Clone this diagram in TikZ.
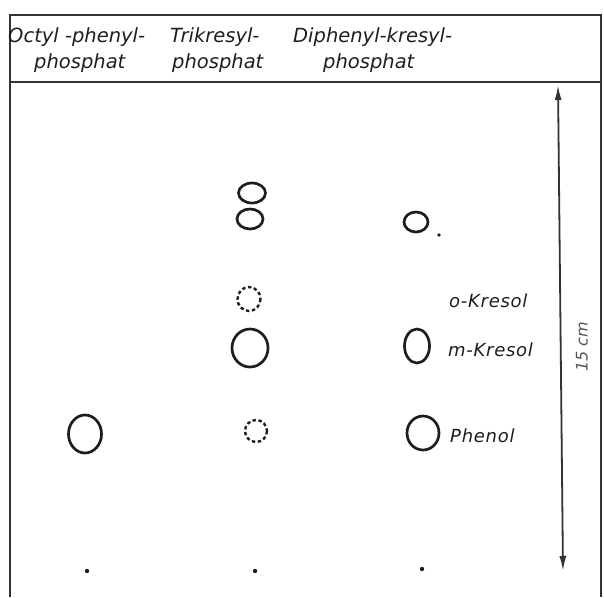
\documentclass[tikz,border=0pt]{standalone}
\usepackage{fontspec}
\newfontfamily\platefont{DejaVu Sans}
\newfontfamily\labelfont{DejaVu Sans}[LetterSpace=4]
\usetikzlibrary{arrows.meta}
\definecolor{ink}{HTML}{1E1E1E}
\definecolor{frameink}{HTML}{333333}
\definecolor{softink}{HTML}{555555}
\tikzset{
  frameline/.style={draw=frameink, line width=2.4pt},
  spot/.style={draw=ink, line width=2.7pt},
  faintspot/.style={draw=ink, line width=2.4pt, dash pattern=on 3.4pt off 2.6pt},
  dotmark/.style={fill=ink, draw=none},
  head/.style={font=\platefont\fontsize{19.5}{22}\selectfont\itshape, text=ink, inner sep=0pt, anchor=base west},
  lbl/.style={font=\labelfont\fontsize{18}{20}\selectfont\itshape, text=ink, inner sep=0pt, anchor=base west},
  scalebar/.style={draw=frameink, line width=1.8pt, {Latex[length=15pt,width=7pt]}-{Latex[length=15pt,width=7pt]}}
}
\begin{document}
\begin{tikzpicture}[x=1pt,y=-1pt]
  \useasboundingbox (0,0) rectangle (604,597);
  % plate frame, open at the bottom
  \draw[frameline] (10,597) -- (10,15) -- (601,15) -- (601,597);
  \draw[frameline] (10,82) -- (601,82);

  % column headings
  \node[head] (h1a) at (8,42)   {Octyl -phenyl-};
  \node[head] (h1b) at (34,68)  {phosphat};
  \node[head] (h2a) at (170,42) {Trikresyl-};
  \node[head] (h2b) at (172,68) {phosphat};
  \node[head] (h3a) at (293,42) {Diphenyl-kresyl-};
  \node[head] (h3b) at (323,68) {phosphat};

  % Octyl-phenyl-phosphat lane
  \draw[spot] (85,434) ellipse [x radius=16.5, y radius=19];
  \fill[dotmark] (87,571) circle [radius=2.2];

  % Trikresyl-phosphat lane
  \draw[spot] (252,193) ellipse [x radius=13.5, y radius=10];
  \draw[spot] (250,219) ellipse [x radius=13, y radius=10];
  \draw[faintspot] (249,299) ellipse [x radius=11.5, y radius=12];
  \draw[spot] (250,348) ellipse [x radius=18, y radius=19];
  \draw[faintspot] (256,431) ellipse [x radius=11, y radius=11];
  \fill[dotmark] (255,571) circle [radius=2.2];

  % Diphenyl-kresyl-phosphat lane
  \draw[spot] (416,222) ellipse [x radius=12, y radius=10];
  \fill[dotmark] (439,235) circle [radius=1.9];
  \draw[spot] (417,346) ellipse [x radius=12.5, y radius=17];
  \draw[spot] (423,433) ellipse [x radius=16, y radius=17];
  \fill[dotmark] (422,569) circle [radius=2.2];

  % spot labels
  \node[lbl] (ok) at (449,307) {o-Kresol};
  \node[lbl] (mk) at (448,356) {m-Kresol};
  \node[lbl] (ph) at (450,442) {Phenol};

  % 15 cm run length
  \coordinate (runtop) at (558,85);
  \coordinate (runbot) at (563,571);
  \draw[scalebar] (runtop) -- (runbot);
  \node[font=\platefont\fontsize{16}{18}\selectfont\itshape, text=softink, rotate=90, inner sep=0pt] (len) at (582,347) {15 cm};
\end{tikzpicture}
\end{document}
